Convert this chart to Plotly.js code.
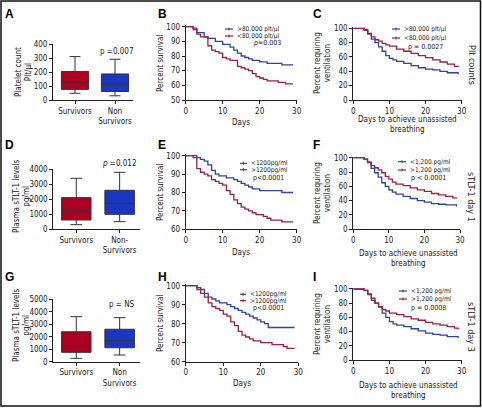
<!DOCTYPE html>
<html><head><meta charset="utf-8">
<script src="https://cdn.plot.ly/plotly-3.0.1.min.js"></script>
<style>html,body{margin:0;padding:0;background:#fff}#c{width:482px;height:408px}</style>
</head><body><div id="c"></div>
<script>
// ---------- DATA ----------
const boxCats1 = ["Survivors", "Non<br>Survivors"];
const boxCats2 = ["Survivors", "Non-<br>Survivors"];
const boxCats3 = ["Survivors", "Non<br>Survivors"];
// [lower whisker, q1, median, q3, upper whisker]
const plateletSurv = [48, 76, 128, 204, 310];
const plateletNon  = [30, 61, 113, 186, 291];
const sTLTd1Surv = [310, 620, 1240, 2110, 3400];
const sTLTd1Non  = [510, 1000, 1730, 2600, 3800];
const sTLTd3Surv = [270, 750, 1280, 2400, 3610];
const sTLTd3Non  = [535, 1120, 1690, 2600, 3530];

// B: survival by platelet count
const bHighDays = [0,2,3,5,6,8,10,12,13,14,15,16,17,18,20,22,26,29];
const bHighVals = [100,98,96,93,92,90,88,86,84,82,80,79,78,77,76,75,74,74];
const bLowDays  = [0,2,3,4,6,7,8,9,10,11,12,14,15,16,17,18,19,20,21,22,25,27,29];
const bLowVals  = [100,99,95,93,87,84,83,82,79,78,77,73,72,71,70,68,66,65,64,63,62,61,61];
// C: ventilation by platelet count
const cHighDays = [0,3,4,5,6,7,8,9,10,11,12,14,16,18,20,22,24,26,29];
const cHighVals = [100,97,92,85,80,74,68,62,58,56,54,51,48,45,43,42,40,38,36];
const cLowDays  = [0,3,4,5,6,7,8,9,10,12,14,16,18,20,22,24,26,28,29];
const cLowVals  = [100,98,93,88,84,82,79,77,75,71,68,65,62,59,56,53,50,47,46];
// E: survival by sTLT-1 day 1
const eLowDays  = [0,3,4,5,6,7,8,9,11,13,14,15,16,17,18,20,26,29];
const eLowVals  = [100,99,98,97,95,92,90,89,88,87,86,85,84,83,82,81,80,80];
const eHighDays = [0,2,3,4,5,6,7,8,9,10,11,12,13,14,15,16,17,18,19,21,22,23,26,29];
const eHighVals = [100,99,93,91,90,89,87,86,85,84,81,79,76,74,72,71,70,69,68,67,66,65,64,64];
// F: ventilation by sTLT-1 day 1
const fLowDays  = [0,3,4,5,6,7,8,9,10,11,12,14,16,18,20,22,24,26,29];
const fLowVals  = [100,98,93,85,79,73,65,60,55,52,49,46,43,40,38,36,35,34,32];
const fHighDays = [0,3,4,5,6,7,8,9,10,11,12,14,16,18,20,22,24,26,28,29];
const fHighVals = [100,98,94,89,86,83,79,74,70,66,63,61,58,55,53,50,48,46,44,43];
// H: survival by sTLT-1 day 3
const hLowDays  = [0,3,4,5,6,7,8,9,11,12,13,14,15,16,17,18,19,20,21,22,29];
const hLowVals  = [100,99,98,96,94,93,92,91,90,89,88,87,86,85,84,83,82,81,80,78,78];
const hHighDays = [0,3,4,5,6,7,8,9,10,11,12,13,14,15,16,17,18,20,23,26,27,29];
const hHighVals = [100,98,96,94,91,89,88,87,85,84,81,79,76,74,73,72,71,70,69,68,67,67];
// I: ventilation by sTLT-1 day 3
const iLowDays  = [0,3,4,5,6,7,8,9,10,11,12,14,16,18,20,22,24,26,29];
const iLowVals  = [100,98,93,84,80,75,66,60,54,51,49,47,44,41,38,36,35,33,31];
const iHighDays = [0,3,4,5,6,7,8,9,10,12,14,16,18,20,22,24,26,28,29];
const iHighVals = [100,98,92,87,80,75,71,69,66,64,61,58,56,53,51,49,47,45,43];

// ---------- STYLE ----------
const W = 482, H = 408;
const FONT = "'Liberation Sans Narrow','DejaVu Sans Condensed','Liberation Sans',Arial,sans-serif";
const INK = '#222';
const RED_FILL = '#ad0020', BLUE_FILL = '#1b36c0';
const RED_LINE = '#9e1f45', BLUE_LINE = '#2f4596';
const px = v => v / W;
const py = v => 1 - v / H;

function axBase(extra) {
  return Object.assign({
    showline: true, linecolor: INK, linewidth: 1, ticks: 'outside', ticklen: 3,
    tickcolor: INK, tickwidth: 1, showgrid: false, zeroline: false,
    tickfont: {family: FONT, size: 8, color: INK}, fixedrange: true
  }, extra);
}
function yAx(vBot, pBot, vTop, pTop, pad, dtick, anchor) {
  const k = (pBot - pTop) / (vTop - vBot);
  const top = pTop - pad * k;
  return axBase({domain: [py(pBot), py(top)], range: [vBot, vTop + pad], dtick: dtick, anchor: anchor});
}
function xAx(p0, p1, range, anchor, extra) {
  return axBase(Object.assign({domain: [px(p0), px(p1)], range: range, anchor: anchor}, extra || {}));
}

const traces = [];
function box(cat, stats, fill, xa, ya) {
  traces.push({
    type: 'box', x: [cat], lowerfence: [stats[0]], q1: [stats[1]], median: [stats[2]],
    q3: [stats[3]], upperfence: [stats[4]], fillcolor: fill,
    line: {color: '#333', width: 1}, width: 0.68, whiskerwidth: 0.4,
    boxpoints: false, xaxis: xa, yaxis: ya, showlegend: false, hoverinfo: 'skip'
  });
}
function km(days, vals, color, xa, ya) {
  traces.push({
    type: 'scatter', mode: 'lines', x: days, y: vals, line: {shape: 'hv', color: color, width: 1.3},
    xaxis: xa, yaxis: ya, showlegend: false, hoverinfo: 'skip'
  });
}

box(boxCats1[0], plateletSurv, RED_FILL, 'x', 'y');
box(boxCats1[1], plateletNon, BLUE_FILL, 'x', 'y');
km(bHighDays, bHighVals, BLUE_LINE, 'x2', 'y2');
km(bLowDays, bLowVals, RED_LINE, 'x2', 'y2');
km(cHighDays, cHighVals, BLUE_LINE, 'x3', 'y3');
km(cLowDays, cLowVals, RED_LINE, 'x3', 'y3');
box(boxCats2[0], sTLTd1Surv, RED_FILL, 'x4', 'y4');
box(boxCats2[1], sTLTd1Non, BLUE_FILL, 'x4', 'y4');
km(eLowDays, eLowVals, BLUE_LINE, 'x5', 'y5');
km(eHighDays, eHighVals, RED_LINE, 'x5', 'y5');
km(fLowDays, fLowVals, BLUE_LINE, 'x6', 'y6');
km(fHighDays, fHighVals, RED_LINE, 'x6', 'y6');
box(boxCats3[0], sTLTd3Surv, RED_FILL, 'x7', 'y7');
box(boxCats3[1], sTLTd3Non, BLUE_FILL, 'x7', 'y7');
km(hLowDays, hLowVals, BLUE_LINE, 'x8', 'y8');
km(hHighDays, hHighVals, RED_LINE, 'x8', 'y8');
km(iLowDays, iLowVals, BLUE_LINE, 'x9', 'y9');
km(iHighDays, iHighVals, RED_LINE, 'x9', 'y9');

const catX = (cats) => ({type: 'category', categoryorder: 'array', categoryarray: cats});
const kmX = {dtick: 10, tick0: 0};

const layout = {
  width: W, height: H, margin: {l: 0, r: 0, t: 0, b: 0},
  paper_bgcolor: '#fff', plot_bgcolor: 'rgba(0,0,0,0)', boxmode: 'overlay',
  showlegend: false, font: {family: FONT, size: 8, color: INK},
  xaxis:  xAx(53, 133, [-0.55, 1.45], 'y', catX(boxCats1)),
  yaxis:  yAx(0, 100, 400, 44, 0, 100, 'x'),
  xaxis2: xAx(185.7, 296.7, [0, 30], 'y2', kmX),
  yaxis2: yAx(50, 100, 100, 26.7, 1, 10, 'x2'),
  xaxis3: xAx(353.3, 461.7, [0, 30], 'y3', kmX),
  yaxis3: yAx(0, 100, 100, 28.3, 1.5, 20, 'x3'),
  xaxis4: xAx(53.3, 140, [-0.53, 1.47], 'y4', catX(boxCats2)),
  yaxis4: yAx(0, 229.3, 4000, 169.3, 0, 1000, 'x4'),
  xaxis5: xAx(185.7, 296.7, [0, 30], 'y5', kmX),
  yaxis5: yAx(60, 229.3, 100, 155.7, 0.7, 10, 'x5'),
  xaxis6: xAx(353.3, 460, [0, 30], 'y6', kmX),
  yaxis6: yAx(0, 229.3, 100, 157.7, 1.5, 20, 'x6'),
  xaxis7: xAx(53.3, 140, [-0.53, 1.47], 'y7', catX(boxCats3)),
  yaxis7: yAx(0, 361.7, 5000, 299.3, 0, 1000, 'x7'),
  xaxis8: xAx(185.7, 298.3, [0, 30], 'y8', kmX),
  yaxis8: yAx(60, 361.7, 100, 285.7, 0.7, 10, 'x8'),
  xaxis9: xAx(353.3, 461.7, [0, 30], 'y9', kmX),
  yaxis9: yAx(0, 360, 100, 289, 1.5, 20, 'x9'),
  annotations: [], shapes: []
};

function txt(t, x, y, opts) {
  layout.annotations.push(Object.assign({
    text: t, x: px(x), y: py(y), xref: 'paper', yref: 'paper', showarrow: false,
    xanchor: 'center', yanchor: 'middle', font: {family: FONT, size: 8, color: INK}
  }, opts || {}));
}
function letter(t, x, y) {
  txt('<b>' + t + '</b>', x, y, {xanchor: 'left', font: {family: "'Liberation Sans',Arial,sans-serif", size: 12, color: '#000'}});
}
function keyLine(x0, x1, y, color) {
  layout.shapes.push({type: 'line', xref: 'paper', yref: 'paper', x0: px(x0), x1: px(x1), y0: py(y), y1: py(y), line: {color: color, width: 1.2}});
  const xm = (x0 + x1) / 2;
  layout.shapes.push({type: 'line', xref: 'paper', yref: 'paper', x0: px(xm), x1: px(xm), y0: py(y - 1.5), y1: py(y + 1.5), line: {color: color, width: 1}});
}
function legend(x0, x1, ys, labels, colors, pText, pX, pY) {
  for (let i = 0; i < labels.length; i++) {
    keyLine(x0, x1, ys[i], colors[i]);
    txt(labels[i], x1 + 2, ys[i], {xanchor: 'left', font: {family: FONT, size: 6.5, color: INK}});
  }
  txt(pText, pX, pY, {font: {family: FONT, size: 7, color: INK}});
}

// panel letters
letter('A', 3, 14); letter('B', 156, 14); letter('C', 311, 14);
letter('D', 3, 145); letter('E', 156, 145); letter('F', 311, 145);
letter('G', 3, 277); letter('H', 156, 277); letter('I', 311, 277);

// y titles
txt('Platelet count<br>Plt/µl', 23, 72, {textangle: -90});
txt('Percent survival', 160, 63, {textangle: -90});
txt('Percent requiring<br>ventilation', 322, 63, {textangle: -90});
txt('Plasma sTLT-1 levels<br>pg/ml', 21, 197, {textangle: -90});
txt('Percent survival', 160, 192, {textangle: -90});
txt('Percent requiring<br>ventilation', 322, 193, {textangle: -90});
txt('Plasma sTLT-1 levels<br>pg/ml', 21, 326, {textangle: -90});
txt('Percent survival', 160, 323, {textangle: -90});
txt('Percent requiring<br>ventilation', 322, 324, {textangle: -90});

// x titles
txt('Days', 241, 122);
txt('Days to achieve unassisted<br>breathing', 407, 124);
txt('Days', 241, 252);
txt('Days to achieve unassisted<br>breathing', 408, 258);
txt('Days', 242, 383);
txt('Days to achieve unassisted<br>breathing', 408, 390);

// right side labels
txt('Plt counts', 472, 65, {textangle: 90, font: {family: FONT, size: 9, color: INK}});
txt('sTLT-1 day 1', 471, 197, {textangle: 90, font: {family: FONT, size: 9, color: INK}});
txt('sTLT-1 day 3', 471, 327, {textangle: 90, font: {family: FONT, size: 9, color: INK}});

// p values for box panels
txt('p =0.007', 116, 51);
txt('<i>p</i> =0.012', 119, 163);
txt('p = NS', 122, 304);

// legends
legend(225, 233, [29, 36], ['>80,000 plt/µl', '<80,000 plt/µl'], [BLUE_LINE, RED_LINE], '<i>p</i>=0.003', 267, 43);
legend(392, 400, [29, 38], ['>80,000 plt/µl', '<80,000 plt/µl'], [BLUE_LINE, RED_LINE], 'p = 0.0027', 425, 47);
legend(240, 247, [163.3, 169.7], ['<1200pg/ml', '>1200pg/ml'], [BLUE_LINE, RED_LINE], 'p<0.0001', 268, 178);
legend(398, 406, [161.7, 170], ['<1,200 pg/ml', '>1,200 pg/ml'], [BLUE_LINE, RED_LINE], 'p < 0.0001', 428, 178);
legend(240, 246, [294.3, 300.7], ['<1200pg/ml', '>1200pg/ml'], [BLUE_LINE, RED_LINE], 'p<0.0001', 268, 308);
legend(399, 407, [291, 299], ['<1,200 pg/ml', '>1,200 pg/ml'], [BLUE_LINE, RED_LINE], 'p = 0.0008', 428, 308);

// frame
layout.shapes.push({type: 'rect', xref: 'paper', yref: 'paper', x0: px(1), x1: px(480.5), y0: py(406), y1: py(1), line: {color: '#111', width: 1.5}});

Plotly.newPlot('c', traces, layout, {staticPlot: true, displayModeBar: false});
</script></body></html>
